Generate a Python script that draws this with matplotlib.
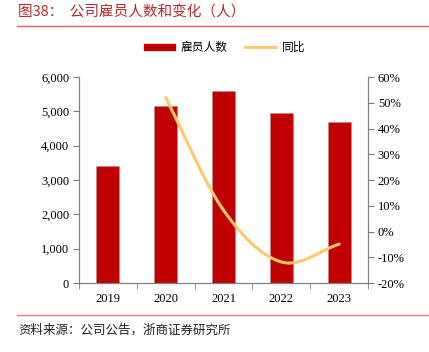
import numpy as np
import matplotlib
matplotlib.use("Agg")
from matplotlib import pyplot as plt
from matplotlib.lines import Line2D
from matplotlib.patches import Patch

plt.rcParams['font.family'] = ['Noto Sans CJK SC', 'DejaVu Sans']

years = ['2019', '2020', '2021', '2022', '2023']
employees = [3400, 5170, 5600, 4940, 4700]
yoy = [52.0, 8.3, -11.8, -4.9]   # 2020-2023, %

bar_color = '#C00000'
line_color = '#FFC869'
axis_color = '#7f7f7f'
num_font = 'Liberation Serif'


def smooth(xs, ys, n=40):
    # Catmull-Rom curve through the points (like Excel's smoothed line)
    xs = np.asarray(xs, float)
    ys = np.asarray(ys, float)
    px = np.concatenate([[2 * xs[0] - xs[1]], xs, [2 * xs[-1] - xs[-2]]])
    py = np.concatenate([[2 * ys[0] - ys[1]], ys, [2 * ys[-1] - ys[-2]]])
    ox, oy = [], []
    for i in range(1, len(px) - 2):
        t = np.linspace(0, 1, n)
        for p, o in ((px, ox), (py, oy)):
            p0, p1, p2, p3 = p[i - 1], p[i], p[i + 1], p[i + 2]
            o.extend(0.5 * (2 * p1 + (-p0 + p2) * t
                            + (2 * p0 - 5 * p1 + 4 * p2 - p3) * t ** 2
                            + (-p0 + 3 * p1 - 3 * p2 + p3) * t ** 3))
    return np.array(ox), np.array(oy)


fig = plt.figure(figsize=(4.29, 3.52), dpi=100)
ax = fig.add_axes([0.184, 0.196, 0.674, 0.585])
x = np.arange(len(years))
ax.bar(x, employees, width=0.4, color=bar_color, edgecolor='#b09090', linewidth=0.4)
ax.set_xlim(-0.5, 4.5)
ax.set_ylim(0, 6000)
ax.set_yticks(range(0, 6001, 1000))
ax.set_yticklabels([f'{v:,}' for v in range(0, 6001, 1000)], fontfamily=num_font, fontsize=9)
ax.set_xticks(x)
ax.set_xticklabels(years, fontfamily=num_font, fontsize=9)
ax.set_xticks(np.arange(-0.5, 5, 1), minor=True)
ax.tick_params(axis='x', which='major', length=0, pad=7)
ax.tick_params(axis='x', which='minor', length=4, direction='out', color=axis_color)
ax.tick_params(axis='y', length=4, direction='out', color=axis_color, pad=3)
ax.spines['top'].set_visible(False)
for s in ['left', 'bottom', 'right']:
    ax.spines[s].set_color(axis_color)

ax2 = ax.twinx()
sx, sy = smooth(x[1:], yoy)
ax2.plot(sx, sy, color=line_color, linewidth=2.2, solid_capstyle='round')
ax2.set_ylim(-20, 60)
ax2.set_yticks(range(-20, 61, 10))
ax2.set_yticklabels([f'{v}%' for v in range(-20, 61, 10)], fontfamily=num_font, fontsize=9)
ax2.tick_params(axis='y', length=4, direction='out', color=axis_color, pad=3)
ax2.spines['top'].set_visible(False)
for s in ['left', 'bottom', 'right']:
    ax2.spines[s].set_color(axis_color)

handles = [Patch(color=bar_color), Line2D([0], [0], color=line_color, linewidth=2)]
fig.legend(handles, ['雇员人数', '同比'], loc='center', bbox_to_anchor=(0.524, 0.865),
           ncol=2, frameon=False, fontsize=8.5, handlelength=2.6, handleheight=0.45,
           columnspacing=1.5, handletextpad=0.5)

fig.text(0.042, 0.963, '图38：  公司雇员人数和变化（人）', color='#B22A2E', fontsize=10.5,
         va='center', ha='left')
fig.add_artist(Line2D([0.04, 1.0], [0.925, 0.925], color='#E06060', linewidth=1.0))
fig.add_artist(Line2D([0.04, 1.0], [0.105, 0.105], color='#E08080', linewidth=1.0))
fig.text(0.042, 0.062, '资料来源：公司公告，浙商证券研究所', color='#222222', fontsize=9,
         va='center', ha='left')

fig.savefig('out.png', dpi=100)
